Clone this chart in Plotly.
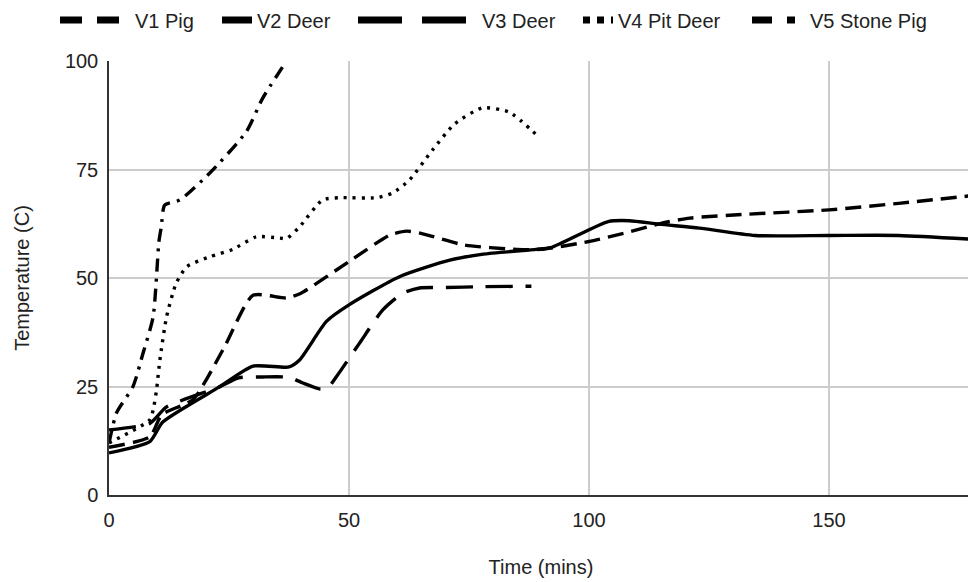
import plotly.graph_objects as go

v1_x = [0, 8.5, 11, 17.5, 24, 30, 37, 40, 50, 58.5, 62, 65, 74, 85, 90, 100, 108, 115, 121, 133, 150, 164.5, 180]
v1_y = [11, 13.4, 18.5, 22, 34, 46, 45.4, 46.5, 53.8, 59.9, 60.8, 60.3, 57.6, 56.6, 56.6, 58.4, 60.5, 62.6, 63.8, 64.7, 65.7, 67.2, 69]

v2_x = [0, 8.5, 11.2, 23, 30, 37.5, 39.7, 45.3, 50, 60.5, 71, 78, 89, 92, 104, 108.4, 114.6, 123, 134.6, 150, 164.5, 180]
v2_y = [9.7, 12.3, 16.8, 24.9, 29.7, 29.5, 31.1, 40, 43.8, 50.3, 54.1, 55.5, 56.6, 57, 63, 63.2, 62.4, 61.5, 59.8, 59.8, 59.8, 58.9]

v3_x = [0, 8.5, 12, 23, 27, 32, 37.6, 40.4, 44, 45.5, 47.4, 52.2, 57, 61.2, 64.7, 69.5, 78, 88]
v3_y = [15, 16.5, 20.3, 24.9, 27, 27.2, 27.1, 25.8, 24.4, 24.6, 27.3, 35, 42.6, 46.5, 47.7, 47.8, 48, 48.1]

v4_x = [0, 8.5, 9.2, 9.9, 10.6, 12, 14, 16.2, 21, 25.8, 30.7, 35.6, 37, 39.7, 44.5, 48, 55.7, 59.1, 62.6, 67.4, 72, 77.8, 83.4, 89.7]
v4_y = [12, 17.3, 19.6, 24.2, 31.1, 41.1, 48.8, 52.6, 54.9, 56.6, 59.5, 59.2, 59.1, 61.8, 68, 68.5, 68.5, 69.6, 72.6, 79.5, 85.5, 89.2, 88.2, 82.3]

v5_x = [0, 1.6, 5, 7.1, 9.2, 10.4, 10.9, 11.6, 14.8, 21, 28.6, 32, 36.2]
v5_y = [12, 19, 25, 32.7, 41.1, 58.4, 61.8, 66.8, 68, 74.2, 83.7, 91.4, 98.7]

names = ["V1 Pig", "V2 Deer", "V3 Deer", "V4 Pit Deer", "V5 Stone Pig"]
x_ticks = [0, 50, 100, 150]
y_ticks = [0, 25, 50, 75, 100]

plot_dash = ["16px,8px", "solid", "27px,13px", "3px,6px", "13px,7px,3px,7px"]
# legend swatch styles (pattern, swatch length in px, left edge of swatch in page px)
legend_dash = ["22px,15px", "solid", "44px,20px", "7px,7px", "20px,15px,8px,200px"]
legend_len = [60, 20, 109, 20, 43]
legend_left = [60, 222, 358, 583, 752]

W, H = 968, 574          # page body has an 8px margin
L, R, T, B = 101, 3, 53, 87
pw = W - L - R
ph = H - T - B

fig = go.Figure()
series = [(v1_x, v1_y), (v2_x, v2_y), (v3_x, v3_y), (v4_x, v4_y), (v5_x, v5_y)]
for i, ((xs, ys), name) in enumerate(zip(series, names)):
    fig.add_trace(go.Scatter(x=xs, y=ys, name=name, mode="lines", showlegend=False,
                             line=dict(color="black", width=3.4, dash=plot_dash[i],
                                       shape="spline", smoothing=0.6)))
    lg = "legend" if i == 0 else f"legend{i+1}"
    fig.add_trace(go.Scatter(x=[None], y=[None], name=name, mode="lines", legend=lg,
                             line=dict(color="black", width=7, dash=legend_dash[i])))

layout_legends = {}
for i in range(5):
    lg = "legend" if i == 0 else f"legend{i+1}"
    layout_legends[lg] = dict(
        orientation="h", x=(legend_left[i] - 8 - 5 - L) / pw, xanchor="left",
        y=1 + (T - 12) / ph, yanchor="middle", font=dict(size=20, color="#222"),
        itemwidth=max(30, legend_len[i] + 10), bgcolor="rgba(0,0,0,0)")

fig.update_layout(
    width=W, height=H,
    paper_bgcolor="white", plot_bgcolor="white",
    font=dict(family="Liberation Sans, Arial, sans-serif", size=20, color="#222"),
    margin=dict(l=L, r=R, t=T, b=B, autoexpand=False),
    showlegend=True,
    xaxis=dict(range=[0, 180], tickvals=x_ticks, showgrid=True, gridcolor="#cccccc", gridwidth=1.5,
               zeroline=False, showline=True, linecolor="#333", linewidth=1.5, automargin=False,
               title=dict(text="Time (mins)", standoff=30, font=dict(size=20)), ticks="",
               tickfont=dict(size=20), ticklabelstandoff=6),
    yaxis=dict(range=[0, 100], tickvals=y_ticks, showgrid=True, gridcolor="#cccccc", gridwidth=1.5,
               zeroline=False, showline=True, linecolor="#333", linewidth=1.5, automargin=False,
               title=dict(text="Temperature (C)", standoff=30, font=dict(size=20)), ticks="",
               tickfont=dict(size=20), ticklabelstandoff=5),
    **layout_legends,
)
fig.write_html("out.html")
